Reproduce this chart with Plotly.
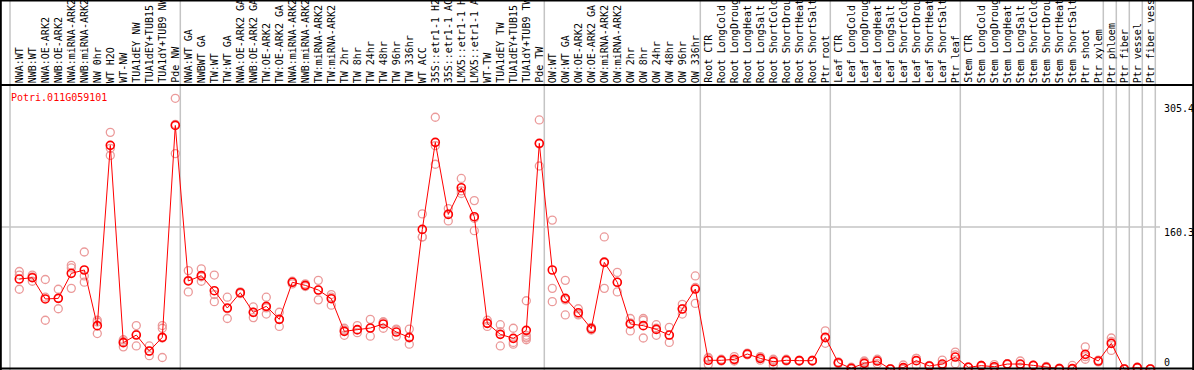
import plotly.graph_objects as go

gene_id = "Potri.011G059101"

# category labels as displayed (the reference clips them at 14 characters)
categories = [
    "NWA:WT", "NWB:WT", "NWA:OE-ARK2", "NWB:OE-ARK2", "NWA:miRNA-ARK2", "NWB:miRNA-ARK2",
    "NW 0hr", "WT H2O", "WT-NW", "TUA1dEY NW", "TUA1dEY+TUB15", "TUA1dY+TUB9 NW", "Pde NW",
    "NWA:WT GA", "NWBWT GA", "TW:WT", "TW:WT GA", "NWA:OE-ARK2 GA", "NWB:OE-ARK2 GA",
    "TW:OE-ARK2", "TW:OE-ARK2 GA", "NWA:miRNA-ARK2", "NWB:miRNA-ARK2", "TW:miRNA-ARK2",
    "TW:miRNA-ARK2", "TW 2hr", "TW 8hr", "TW 24hr", "TW 48hr", "TW 96hr", "TW 336hr",
    "WT ACC", "35S::etr1-1 H2", "35S::etr1-1 AC", "LMX5::etr1-1 H", "LMX5::etr1-1 A",
    "WT-TW", "TUA1dEY TW", "TUA1dEY+TUB15", "TUA1dY+TUB9 TW", "Pde TW",
    "OW:WT", "OW:WT GA", "OW:OE-ARK2", "OW:OE-ARK2 GA", "OW:miRNA-ARK2", "OW:miRNA-ARK2",
    "OW 2hr", "OW 8hr", "OW 24hr", "OW 48hr", "OW 96hr", "OW 336hr",
    "Root CTR", "Root LongCold", "Root LongDroug", "Root LongHeat", "Root LongSalt",
    "Root ShortCold", "Root ShortDrou", "Root ShortHeat", "Root ShortSalt", "Ptr root",
    "Leaf CTR", "Leaf LongCold", "Leaf LongDroug", "Leaf LongHeat", "Leaf LongSalt",
    "Leaf ShortCold", "Leaf ShortDrou", "Leaf ShortHeat", "Leaf ShortSalt", "Ptr leaf",
    "Stem CTR", "Stem LongCold", "Stem LongDroug", "Stem LongHeat", "Stem LongSalt",
    "Stem ShortCold", "Stem ShortDrou", "Stem ShortHeat", "Stem ShortSalt", "Ptr shoot",
    "Ptr xylem", "Ptr phloem", "Ptr fiber", "Ptr vessel", "Ptr fiber vess",
]

mean_values = [
    101.5, 103.0, 79.0, 79.7, 107.9, 111.7, 48.9, 252.3, 29.7, 38.3, 20.3, 35.7, 274.8,
    99.3, 105.3, 88.3, 68.8, 86.1, 63.9, 70.7, 56.0, 97.8, 94.4, 89.1, 79.3, 42.5, 44.4,
    46.2, 50.8, 41.7, 35.7, 157.5, 255.7, 174.4, 204.5, 171.8, 51.5, 39.1, 34.6, 43.6, 254.6,
    111.7, 79.7, 63.5, 45.5, 120.3, 97.8, 50.8, 48.9, 44.7, 38.3, 67.7, 90.2,
    9.8, 9.8, 10.9, 16.9, 12.0, 8.3, 9.8, 9.4, 9.4, 35.7,
    7.1, 0.8, 6.4, 9.0, 0.0, 1.5, 9.4, 3.4, 5.6, 13.5,
    1.9, 3.8, 2.6, 5.6, 5.6, 4.1, 1.9, 0.4, 0.4, 16.5, 9.0,
    28.9, 0.0, 1.5, 0.0,
]

replicate_values = [
    [110, 106, 90], [106, 104, 99], [101, 81, 55], [90, 80, 68], [117, 114, 91],
    [132, 105, 98], [55, 53, 40], [267, 249, 241], [33, 31, 25], [49, 39, 26],
    [26, 20, 15], [49, 46, 35, 13], [305.4, 276, 243],
    [111, 100, 87], [113, 104, 99], [106, 84, 76], [81, 68, 57], [87, 86, 85],
    [70, 64, 58], [81, 69, 62], [64, 56, 48], [99, 98, 96], [96, 94, 93],
    [100, 89, 78], [84, 81, 72], [46, 44, 38], [49, 44, 41], [56, 46, 37],
    [53, 53, 46], [45, 44, 37], [45, 35, 28], [175, 149, 149], [284, 252, 231],
    [181, 175, 167], [215, 201, 198], [190, 170, 156], [55, 52, 48], [50, 42, 26],
    [46, 30, 28], [77, 38, 36, 35, 33], [281, 254, 229],
    [168, 91, 76], [100, 78, 61], [68, 62, 61], [47, 45, 44], [149, 121, 91],
    [109, 98, 87], [57, 52, 43], [57, 55, 35], [50, 46, 38], [47, 38, 30],
    [73, 68, 62], [105, 92, 74],
    [13, 12, 5], [11, 10, 9], [14, 10, 9], [18, 17, 16], [14, 12, 10],
    [11, 10, 4], [11, 10, 9], [10, 9, 9], [10, 9, 9], [43, 35, 29],
    [8, 7, 6], [2, 0.5, 0], [9, 8, 3], [11, 10, 6], [0, 0, 0],
    [4.5, 0, 0], [12, 12, 4], [4, 3, 3], [10, 4, 3], [19, 16, 6],
    [2, 2, 2], [4, 4, 3], [5, 2, 1], [6, 6, 5], [9, 5, 2],
    [4, 4, 4], [3, 2, 1], [1, 0, 0], [4, 0, 0], [25, 14, 11], [10, 9, 8],
    [35, 31, 21], [0, 0, 0], [2, 2, 1], [0, 0, 0],
]

# index of last category in each group (separator drawn after it)
group_ends = [12, 40, 52, 62, 72, 83, 84, 85, 86, 87]

y_tick_values = [0, 160.3, 305.4]
y_tick_labels = ["0", "160.3", "305.4"]

W, H = 1194, 370
FONT = "DejaVu Sans Mono"

x_idx = list(range(len(categories)))
rep_x = [i for i, reps in enumerate(replicate_values) for _ in reps]
rep_y = [v for reps in replicate_values for v in reps]

fig = go.Figure()
fig.add_trace(go.Scatter(
    x=rep_x, y=rep_y, mode="markers", hoverinfo="y",
    marker=dict(symbol="circle-open", size=8, color="#eb9a9a",
                line=dict(width=1.3, color="#eb9a9a")),
))
fig.add_trace(go.Scatter(
    x=x_idx, y=mean_values, mode="lines+markers",
    line=dict(color="#ff0000", width=1),
    marker=dict(symbol="circle-open", size=8, color="#ff0000",
                line=dict(width=1.6, color="#ff0000")),
))

# pixel geometry: category centre at 19.3 + 13*i ; value 0 at y=369, 305.4 at y=98.3
px_per_cat = 13.0
x0_px = 19.3
x_range = [-x0_px / px_per_cat, (W - x0_px) / px_per_cat]
py_per_unit = (369 - 98.3) / 305.4
y_range = [-(H - 369) / py_per_unit, 369 / py_per_unit]

shapes = []
grey = "#c4c4c4"
sep_positions = [-0.715] + [e + 5 / px_per_cat for e in group_ends]
for s in sep_positions:
    shapes.append(dict(type="line", xref="x", yref="paper", x0=s, x1=s, y0=0, y1=1,
                       line=dict(color=grey, width=1.5), layer="below"))
shapes.append(dict(type="line", xref="paper", yref="y", x0=0, x1=1160 / W,
                   y0=y_tick_values[1], y1=y_tick_values[1],
                   line=dict(color=grey, width=1.5), layer="below"))
ytop_line = 1 - 85 / H
shapes += [
    dict(type="line", xref="paper", yref="paper", x0=0, x1=1, y0=ytop_line, y1=ytop_line,
         line=dict(color="black", width=2)),
    dict(type="line", xref="paper", yref="paper", x0=0, x1=1, y0=1.5 / H, y1=1.5 / H,
         line=dict(color="black", width=2)),
    dict(type="line", xref="paper", yref="paper", x0=0, x1=1, y0=1 - 0.5 / H, y1=1 - 0.5 / H,
         line=dict(color="black", width=2)),
    dict(type="line", xref="paper", yref="paper", x0=0.8 / W, x1=0.8 / W, y0=0, y1=1,
         line=dict(color="black", width=2)),
    dict(type="line", xref="paper", yref="paper", x0=1 - 0.8 / W, x1=1 - 0.8 / W, y0=0, y1=1,
         line=dict(color="black", width=2)),
]

annotations = []
for i, c in enumerate(categories):
    annotations.append(dict(
        x=i, y=1 - 84 / H, xref="x", yref="paper", text=c, showarrow=False,
        textangle=-90, xanchor="center", yanchor="bottom", borderpad=0,
        font=dict(family=FONT, size=10, color="black"),
    ))
annotations.append(dict(
    x=9 / W, y=1 - 98 / H, xref="paper", yref="paper", text=gene_id, showarrow=False,
    xanchor="left", yanchor="middle", font=dict(family=FONT, size=10, color="#ff0000"),
))
label_centres = {"0": 362, "160.3": 232, "305.4": 108}
for lab in y_tick_labels:
    annotations.append(dict(
        x=1162 / W, y=1 - label_centres[lab] / H, xref="paper", yref="paper", text=lab,
        showarrow=False, xanchor="left", yanchor="middle",
        font=dict(family=FONT, size=10, color="black"),
    ))

fig.update_layout(
    width=W, height=H, margin=dict(l=0, r=0, t=0, b=0),
    paper_bgcolor="white", plot_bgcolor="white", showlegend=False,
    xaxis=dict(range=x_range, visible=False, fixedrange=True),
    yaxis=dict(range=y_range, visible=False, fixedrange=True),
    shapes=shapes, annotations=annotations,
)

fig.write_html(
    "out.html",
    config={"displayModeBar": False},
    post_script="document.body.style.margin='0';document.body.style.overflow='hidden';",
)
